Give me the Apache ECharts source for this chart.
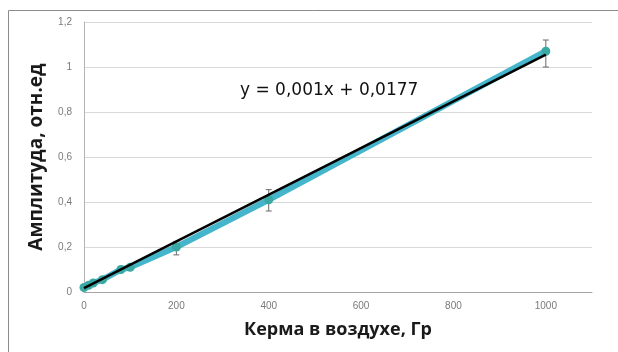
<!DOCTYPE html>
<html><head><meta charset="utf-8">
<script src="https://cdn.jsdelivr.net/npm/echarts@6/dist/echarts.min.js"></script>
<style>html,body{margin:0;padding:0;background:#fff}#c{width:618px;height:352px}</style>
</head><body><div id="c"></div>
<script>
const kerma = [0, 10, 20, 40, 80, 100, 200, 400, 1000];
const amplitude = [0.02, 0.03, 0.04, 0.055, 0.1, 0.11, 0.2, 0.41, 1.07];
const errLow = [0.01, 0.02, 0.03, 0.045, 0.09, 0.1, 0.165, 0.36, 1.0];
const errHigh = [0.03, 0.04, 0.05, 0.065, 0.11, 0.12, 0.225, 0.455, 1.12];
const trendX = [0, 1000];
const trendY = [0.0177, 1.055];
const equation = 'y = 0,001x + 0,0177';
const xTitle = 'Керма в воздухе, Гр';
const yTitle = 'Амплитуда, отн.ед';

const pts = kerma.map((x, i) => [x, amplitude[i]]);
const errs = kerma.map((x, i) => [x, errLow[i], errHigh[i]]);
const trend = trendX.map((x, i) => [x, trendY[i]]);

const chart = echarts.init(document.getElementById('c'), null, {renderer: 'canvas'});
chart.setOption({
  animation: false,
  grid: {left: 84, top: 22, right: 26, bottom: 60},
  xAxis: {
    type: 'value', min: 0, max: 1100, interval: 200,
    axisLine: {show: true, onZero: false, lineStyle: {color: '#a6a6a6'}},
    axisTick: {show: false},
    splitLine: {show: false},
    axisLabel: {color: '#7a7a7a', fontSize: 10, fontFamily: 'Liberation Sans', margin: 9, showMaxLabel: false,
      formatter: v => (v > 1000 ? '' : String(v))},
    name: xTitle, nameLocation: 'middle', nameGap: 29,
    nameTextStyle: {fontSize: 18, fontWeight: 'bold', color: '#1a1a1a', fontFamily: 'Open Sans'}
  },
  yAxis: {
    type: 'value', min: 0, max: 1.2, interval: 0.2,
    axisLine: {show: true, lineStyle: {color: '#b3b3b3'}},
    axisTick: {show: false},
    splitLine: {lineStyle: {color: '#d9d9d9'}},
    axisLabel: {color: '#7a7a7a', fontSize: 10, fontFamily: 'Liberation Sans', margin: 12,
      formatter: v => String(Math.round(v * 10) / 10).replace('.', ',')},
    name: yTitle, nameLocation: 'middle', nameGap: 38,
    nameTextStyle: {fontSize: 19, fontWeight: 'bold', color: '#1a1a1a', fontFamily: 'Open Sans'}
  },
  series: [
    {
      type: 'custom', z: 3,
      renderItem: (params, api) => {
        const x = api.value(0);
        const lo = api.coord([x, api.value(1)]);
        const hi = api.coord([x, api.value(2)]);
        const w = 3;
        const st = {stroke: '#6b6b6b', lineWidth: 1};
        return {type: 'group', children: [
          {type: 'line', shape: {x1: lo[0], y1: lo[1], x2: hi[0], y2: hi[1]}, style: st},
          {type: 'line', shape: {x1: lo[0] - w, y1: lo[1], x2: lo[0] + w, y2: lo[1]}, style: st},
          {type: 'line', shape: {x1: hi[0] - w, y1: hi[1], x2: hi[0] + w, y2: hi[1]}, style: st}
        ]};
      },
      data: errs
    },
    {
      type: 'line', data: pts, z: 4,
      symbol: 'circle', symbolSize: 9,
      lineStyle: {color: '#45b5cc', width: 6},
      itemStyle: {color: '#3aa9a3'}
    },
    {
      type: 'line', data: trend, z: 5, symbol: 'none',
      lineStyle: {color: '#000', width: 2.5}
    }
  ],
  graphic: [{
    type: 'rect', shape: {x: 8.5, y: 10.5, width: 640, height: 400},
    style: {fill: 'none', stroke: '#8c8c8c', lineWidth: 1}, z: 0
  }, {
    type: 'text', left: 240, top: 82, z: 10,
    style: {text: equation, fontSize: 17, fontFamily: 'DejaVu Sans', fill: '#111'}
  }]
});
</script></body></html>
